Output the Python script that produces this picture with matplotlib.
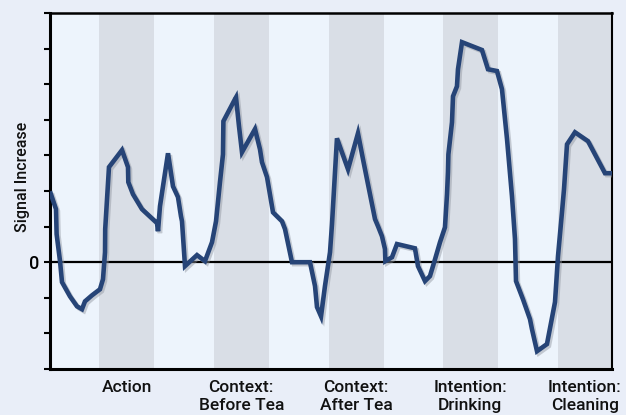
import matplotlib
matplotlib.use("Agg")
import matplotlib.pyplot as plt
import matplotlib.patheffects as pe
import matplotlib.transforms as mtransforms

# ---- data ----
time_s = [0.0, 1.0, 1.1, 1.67, 2.0, 3.33, 4.5, 5.33, 5.83, 7.0, 8.33, 8.83, 9.17, 9.2,
          9.83, 12.0, 13.0, 13.05, 13.83, 15.33, 17.83, 18.0, 18.33, 18.83, 19.67, 20.5,
          21.33, 21.83, 22.0, 22.5, 24.5, 25.83, 27.0, 27.67, 28.33, 28.83, 28.9, 30.83,
          31.0, 31.5, 32.0, 34.17, 35.0, 35.33, 36.17, 37.17, 38.67, 39.17, 40.33, 43.33,
          44.17, 44.5, 45.17, 45.83, 46.67, 47.0, 47.83, 49.67, 51.33, 52.17, 53.0, 54.17,
          54.67, 55.33, 55.83, 55.9, 57.0, 57.83, 60.83, 61.33, 62.5, 63.33, 64.17, 65.0,
          65.83, 66.17, 66.33, 66.4, 67.0, 67.17, 67.83, 68.0, 68.67, 72.0, 73.0, 74.5,
          75.33, 76.17, 77.0, 77.5, 77.67, 78.83, 80.0, 80.33, 81.17, 82.83, 84.17, 84.67,
          85.33, 85.67, 86.17, 87.5, 89.67, 92.5, 93.67]
signal = [1.99, 1.49, 0.79, 0.03, -0.56, -0.96, -1.24, -1.32, -1.10, -0.93, -0.76, -0.48,
          0.28, 0.93, 2.67, 3.15, 2.67, 2.25, 1.91, 1.49, 1.10, 0.87, 1.57, 2.13, 3.06, 2.13,
          1.83, 1.29, 1.15, -0.11, 0.20, 0.03, 0.56, 1.15, 2.25, 3.03, 3.96, 4.58, 4.63,
          3.82, 3.09, 3.74, 3.17, 2.81, 2.39, 1.40, 1.15, 0.93, 0.0, 0.0, -0.67, -1.26,
          -1.52, -0.67, 0.28, 1.07, 3.48, 2.61, 3.62, 2.89, 2.19, 1.21, 1.01, 0.73, 0.37,
          0.03, 0.14, 0.51, 0.39, -0.11, -0.53, -0.39, 0.08, 0.56, 0.98, 1.91, 2.53, 3.03,
          3.93, 4.66, 4.94, 5.42, 6.18, 5.96, 5.42, 5.37, 4.86, 3.46, 1.85, 0.65, -0.53,
          -1.04, -1.60, -1.88, -2.50, -2.30, -1.12, 0.17, 1.40, 2.05, 3.31, 3.65, 3.40,
          2.50, 2.50]
block_onsets = [8.25, 27.33, 46.5, 65.5, 84.6]
block_duration = 9.1
block_labels = ["Action", "Context:\nBefore Tea", "Context:\nAfter Tea",
                "Intention:\nDrinking", "Intention:\nCleaning"]
x_limits = (0, 93.67)
y_limits = (-3, 7)
y_ticks = list(range(-3, 8))
y_ticklabels = ["0" if t == 0 else "" for t in y_ticks]

# ---- style ----
fig_bg = "#e9eef8"
light_band = "#edf4fc"
gray_band = "#d9dee6"
line_color = "#264477"
font = ["Roboto", "DejaVu Sans"]

fig = plt.figure(figsize=(6.26, 4.15), dpi=100, facecolor=fig_bg)
ax = fig.add_axes([50/626, 1 - 369/415, 562/626, 356/415])
ax.set_facecolor(light_band)

for onset in block_onsets:
    ax.axvspan(onset, onset + block_duration, color=gray_band, lw=0, zorder=0.5)

ax.axhline(0, color="black", lw=1.6, zorder=1)

ax.plot(time_s, signal, color=line_color, lw=3.3, solid_joinstyle="miter",
        solid_capstyle="butt", zorder=3,
        path_effects=[pe.SimpleLineShadow(offset=(1.4, -1.4), shadow_color="#8e949e", alpha=0.45),
                      pe.Normal()])

ax.set_xlim(*x_limits)
ax.set_ylim(*y_limits)
ax.set_xticks([])
ax.set_yticks(y_ticks)
ax.set_yticklabels(y_ticklabels, fontfamily=font, fontsize=13, fontweight="medium")
ax.tick_params(axis="y", direction="out", length=4, width=1.5, pad=4, colors="black")

for side in ["left", "bottom"]:
    ax.spines[side].set_linewidth(2.2)
ax.spines["top"].set_linewidth(1.8)
ax.spines["right"].set_linewidth(1.5)
for s in ax.spines.values():
    s.set_color("black")

trans = mtransforms.blended_transform_factory(ax.transData, ax.transAxes)
for onset, lab in zip(block_onsets, block_labels):
    ax.text(onset + block_duration / 2, -0.03, lab, transform=trans, ha="center",
            va="top", fontsize=12.5, fontfamily=font, fontweight="medium",
            linespacing=1.3, color="#111111")

fig.text(23/626, 1 - 177/415, "Signal Increase", rotation=90, ha="center", va="center",
         fontsize=11.5, fontfamily=font, fontweight="medium", color="#111111")

fig.savefig("out.png", dpi=100, facecolor=fig_bg)
